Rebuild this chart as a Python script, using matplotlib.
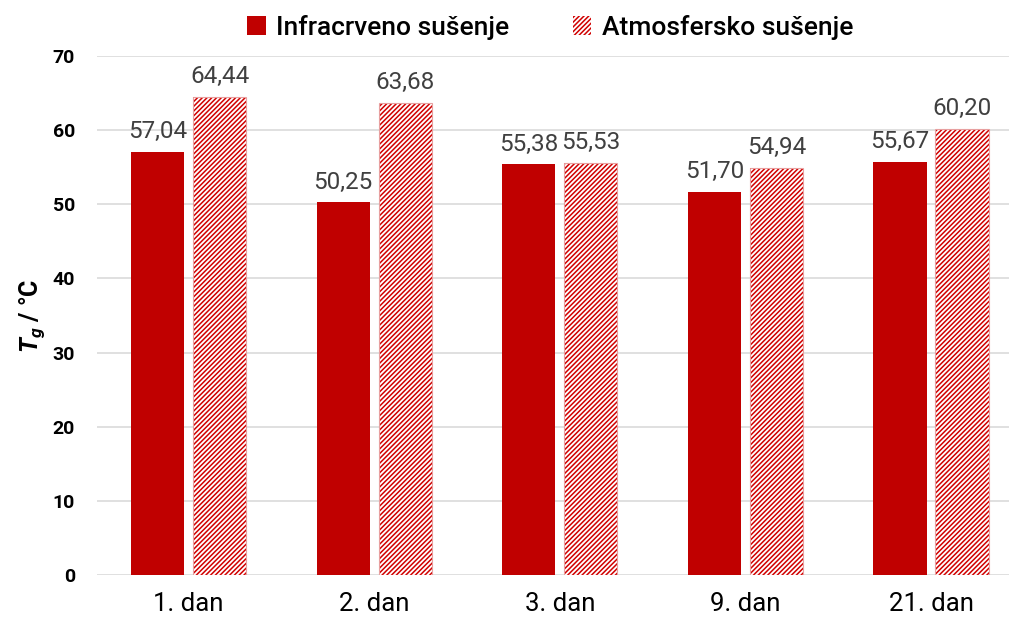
import matplotlib
matplotlib.use('Agg')
from matplotlib import pyplot as plt
import numpy as np

# data
days = ['1. dan', '2. dan', '3. dan', '9. dan', '21. dan']
infrared = [57.04, 50.25, 55.38, 51.70, 55.67]
atmospheric = [64.44, 63.68, 55.53, 54.94, 60.20]
yticks = [0, 10, 20, 30, 40, 50, 60, 70]

plt.rcParams['font.family'] = ['Roboto', 'DejaVu Sans']
plt.rcParams['mathtext.fontset'] = 'custom'
plt.rcParams['mathtext.it'] = 'Roboto:italic:bold'
plt.rcParams['mathtext.rm'] = 'Roboto:bold'
plt.rcParams['hatch.linewidth'] = 1.1

fig = plt.figure(figsize=(10.09, 6.23), dpi=100)
ax = fig.add_axes([97/1009, 48/623, 912/1009, 519/623])

x = np.arange(len(days))
w = 0.286
off = 0.167
ax.bar(x - off, infrared, w, color='#C00000', zorder=3, label='Infracrveno sušenje')
# hatch takes the edge colour, so the outline is drawn separately
ax.bar(x + off, atmospheric, w, color='white', edgecolor='#D00000', linewidth=0,
       hatch='///////', zorder=3, label='Atmosfersko sušenje')
ax.bar(x + off, atmospheric, w, fill=False, edgecolor='#E8A0A0', linewidth=0.8, zorder=4)

for xi, v in zip(x - off, infrared):
    ax.text(xi, v + 1.2, f'{v:.2f}'.replace('.', ','), ha='center', va='bottom',
            fontsize=17.5, color='#404040')
for xi, v in zip(x + off, atmospheric):
    ax.text(xi, v + 1.2, f'{v:.2f}'.replace('.', ','), ha='center', va='bottom',
            fontsize=17.5, color='#404040')

ax.set_xlim(-0.493, 4.42)
ax.set_ylim(0, 70)
ax.set_yticks(yticks)
ax.set_yticklabels([str(t) for t in yticks], fontsize=14, fontweight='bold')
ax.set_xticks(x)
ax.set_xticklabels(days, fontsize=18.5)
ax.tick_params(axis='y', length=0, pad=16)
ax.tick_params(axis='x', length=0, pad=12)
ax.grid(axis='y', color='#DADADA', linewidth=1.2, zorder=0)
for s in ax.spines.values():
    s.set_visible(False)

ax.set_ylabel(r'$T_g$ / °C', fontsize=18, fontweight='bold', labelpad=4)

ax.legend(loc='upper center', bbox_to_anchor=(0.497, 1.125), ncol=2, frameon=False,
          prop={'size': 19, 'weight': 'medium'}, handlelength=0.7,
          handleheight=0.7, handletextpad=0.4, columnspacing=2.4)

plt.savefig('out.png', dpi=100)
